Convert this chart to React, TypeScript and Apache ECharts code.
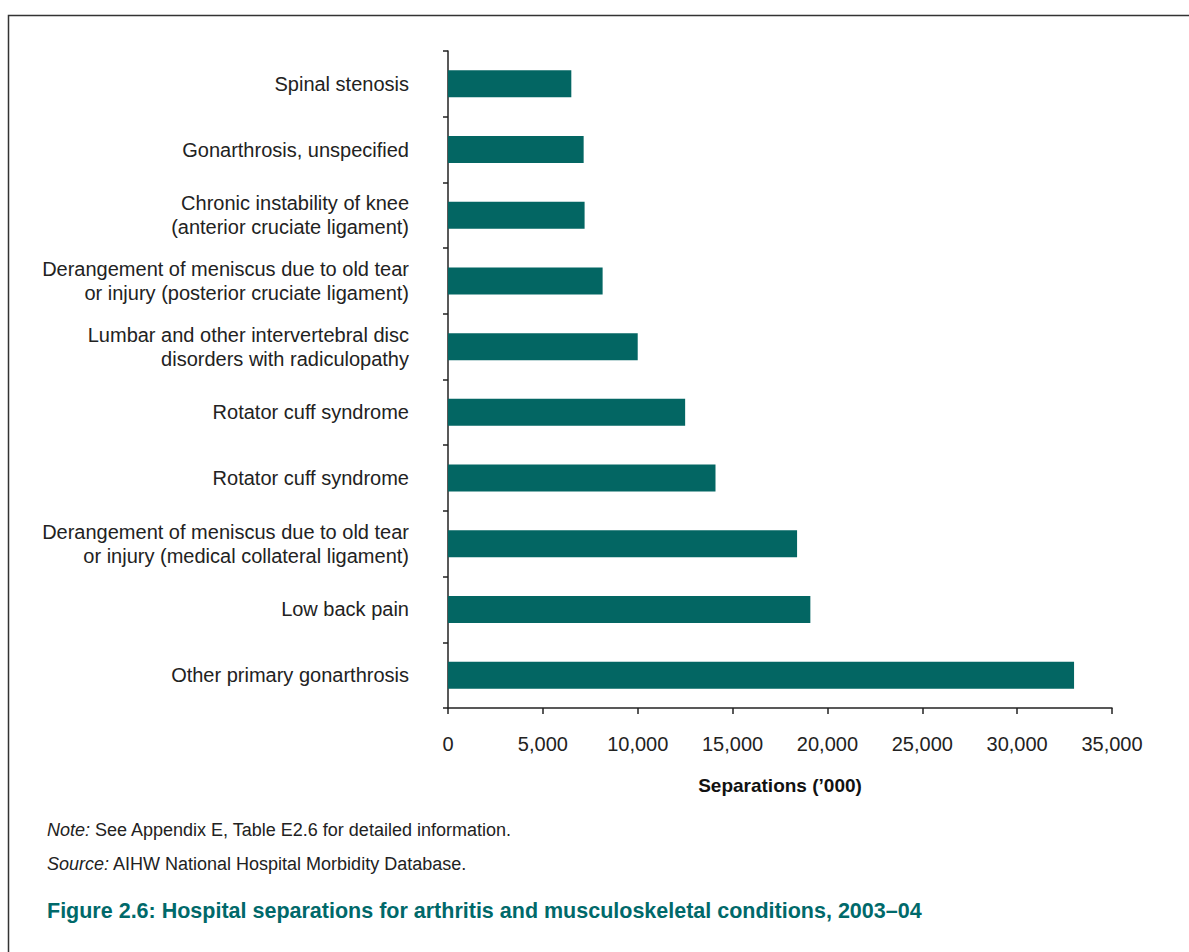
import React, { useEffect, useRef } from "react";
import * as echarts from "echarts";

const categories = [
  "Spinal stenosis",
  "Gonarthrosis, unspecified",
  "Chronic instability of knee\n(anterior cruciate ligament)",
  "Derangement of meniscus due to old tear\nor injury (posterior cruciate ligament)",
  "Lumbar and other intervertebral disc\ndisorders with radiculopathy",
  "Rotator cuff syndrome",
  "Rotator cuff syndrome",
  "Derangement of meniscus due to old tear\nor injury (medical collateral ligament)",
  "Low back pain",
  "Other primary gonarthrosis",
];
const separations = [6500, 7150, 7200, 8150, 10000, 12500, 14100, 18400, 19100, 33000];
const xTicks = { min: 0, max: 35000, interval: 5000 };

const FONT = "'Liberation Sans', Arial, Helvetica, sans-serif";
const TEAL = "#036663";

export default function App() {
  const ref = useRef<HTMLDivElement>(null);
  useEffect(() => {
    if (!ref.current) return;
    const chart = echarts.init(ref.current, undefined, { renderer: "svg" });
    chart.setOption({
      animation: false,
      backgroundColor: "#ffffff",
      grid: { left: 448, right: 77, top: 51, bottom: 244, containLabel: false },
      xAxis: {
        type: "value",
        min: xTicks.min,
        max: xTicks.max,
        interval: xTicks.interval,
        name: "Separations (\u2019000)",
        nameLocation: "middle",
        nameGap: 68,
        nameTextStyle: { fontFamily: FONT, fontSize: 19, fontWeight: "bold", color: "#111" },
        axisLine: { show: true, lineStyle: { color: "#222", width: 1.5 } },
        axisTick: { show: true, length: 6, lineStyle: { color: "#222", width: 1.5 } },
        axisLabel: {
          fontFamily: FONT,
          fontSize: 20,
          color: "#222",
          margin: 26,
          formatter: (v: number) => v.toLocaleString("en-US"),
        },
        splitLine: { show: false },
      },
      yAxis: {
        type: "category",
        data: categories,
        inverse: true,
        axisLine: { show: true, lineStyle: { color: "#222", width: 1.5 } },
        axisTick: { show: true, length: 5, inside: false, lineStyle: { color: "#222", width: 1.5 } },
        axisLabel: {
          fontFamily: FONT,
          fontSize: 20,
          color: "#222",
          margin: 39,
          lineHeight: 24,
          align: "right",
        },
        splitLine: { show: false },
      },
      series: [
        {
          type: "bar",
          data: separations,
          barWidth: 27,
          itemStyle: { color: TEAL },
        },
      ],
      graphic: [
        {
          type: "rect",
          shape: { x: 8.5, y: 15.5, width: 1400, height: 1200 },
          style: { fill: "none", stroke: "#333", lineWidth: 1.5 },
          silent: true,
        },
        {
          type: "text",
          left: 47,
          top: 821,
          style: {
            text: "{i|Note:} See Appendix E, Table E2.6 for detailed information.",
            fontFamily: FONT,
            fontSize: 18,
            fill: "#222",
            rich: { i: { fontStyle: "italic", fontFamily: FONT, fontSize: 18, fill: "#222" } },
          },
        },
        {
          type: "text",
          left: 47,
          top: 855,
          style: {
            text: "{i|Source:} AIHW National Hospital Morbidity Database.",
            fontFamily: FONT,
            fontSize: 18,
            fill: "#222",
            rich: { i: { fontStyle: "italic", fontFamily: FONT, fontSize: 18, fill: "#222" } },
          },
        },
        {
          type: "text",
          left: 47,
          top: 900,
          style: {
            text: "Figure 2.6: Hospital separations for arthritis and musculoskeletal conditions, 2003\u201304",
            fontFamily: FONT,
            fontSize: 21.5,
            fontWeight: "bold",
            fill: "#00696a",
          },
        },
      ],
    });
    return () => chart.dispose();
  }, []);
  return (
    <div
      ref={ref}
      style={{ position: "absolute", left: 0, top: 0, width: 1189, height: 952 }}
    />
  );
}
